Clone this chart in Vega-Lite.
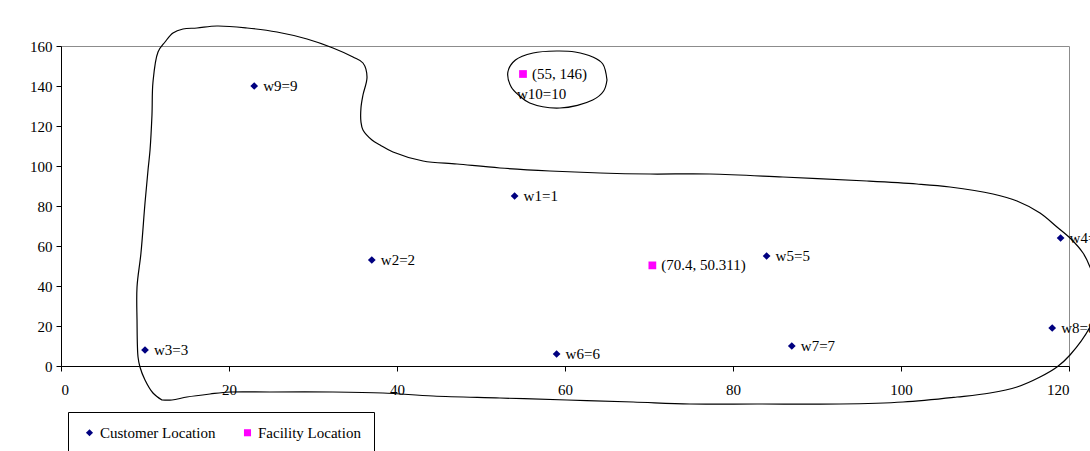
{
  "$schema": "https://vega.github.io/schema/vega-lite/v6.json",
  "width": 1008,
  "height": 320,
  "autosize": {"type": "none"},
  "padding": {"left": 61, "top": 46, "right": 21, "bottom": 85},
  "background": "white",
  "config": {
    "font": "Liberation Serif",
    "view": {"stroke": "#8c8c8c", "strokeWidth": 1},
    "axis": {
      "domainColor": "black",
      "domainWidth": 1,
      "tickColor": "black",
      "tickSize": 5,
      "labelColor": "black",
      "labelFont": "Liberation Serif",
      "labelFontSize": 15,
      "labelOverlap": false,
      "labelSeparation": 0,
      "grid": false,
      "title": null
    }
  },
  "datasets": {
    "sites": [
      {"x": 54, "y": 85, "kind": "Customer Location", "label": "w1=1"},
      {"x": 37, "y": 53, "kind": "Customer Location", "label": "w2=2"},
      {"x": 10, "y": 8, "kind": "Customer Location", "label": "w3=3"},
      {"x": 119, "y": 64, "kind": "Customer Location", "label": "w4=4"},
      {"x": 84, "y": 55, "kind": "Customer Location", "label": "w5=5"},
      {"x": 59, "y": 6, "kind": "Customer Location", "label": "w6=6"},
      {"x": 87, "y": 10, "kind": "Customer Location", "label": "w7=7"},
      {"x": 118, "y": 19, "kind": "Customer Location", "label": "w8=8"},
      {"x": 23, "y": 140, "kind": "Customer Location", "label": "w9=9"},
      {"x": 70.4, "y": 50.311, "kind": "Facility Location", "label": "(70.4, 50.311)"},
      {"x": 55, "y": 146, "kind": "Facility Location", "label": "(55, 146)", "note": "w10=10"}
    ],
    "outlines": [
      {"loop": "region", "i": 1, "x": 12.02, "y": -17},
      {"loop": "region", "i": 2, "x": 10.95, "y": -13.5},
      {"loop": "region", "i": 3, "x": 10.0, "y": -7},
      {"loop": "region", "i": 4, "x": 9.4, "y": -0.5},
      {"loop": "region", "i": 5, "x": 9.17, "y": 4.5},
      {"loop": "region", "i": 6, "x": 9.05, "y": 23},
      {"loop": "region", "i": 7, "x": 9.05, "y": 39.5},
      {"loop": "region", "i": 8, "x": 9.52, "y": 56.5},
      {"loop": "region", "i": 9, "x": 10.0, "y": 81.5},
      {"loop": "region", "i": 10, "x": 10.36, "y": 98},
      {"loop": "region", "i": 11, "x": 10.6, "y": 108},
      {"loop": "region", "i": 12, "x": 10.83, "y": 125.5},
      {"loop": "region", "i": 13, "x": 10.95, "y": 142},
      {"loop": "region", "i": 14, "x": 11.55, "y": 157},
      {"loop": "region", "i": 15, "x": 12.38, "y": 162},
      {"loop": "region", "i": 16, "x": 13.33, "y": 166.5},
      {"loop": "region", "i": 17, "x": 14.52, "y": 168.5},
      {"loop": "region", "i": 18, "x": 16.19, "y": 169},
      {"loop": "region", "i": 19, "x": 18.57, "y": 170},
      {"loop": "region", "i": 20, "x": 22.14, "y": 169},
      {"loop": "region", "i": 21, "x": 25.71, "y": 167},
      {"loop": "region", "i": 22, "x": 29.29, "y": 163.5},
      {"loop": "region", "i": 23, "x": 32.38, "y": 159},
      {"loop": "region", "i": 24, "x": 34.76, "y": 154.5},
      {"loop": "region", "i": 25, "x": 35.95, "y": 151.5},
      {"loop": "region", "i": 26, "x": 36.43, "y": 144.5},
      {"loop": "region", "i": 27, "x": 35.95, "y": 135.5},
      {"loop": "region", "i": 28, "x": 35.71, "y": 129},
      {"loop": "region", "i": 29, "x": 35.71, "y": 122},
      {"loop": "region", "i": 30, "x": 35.95, "y": 118},
      {"loop": "region", "i": 31, "x": 37.02, "y": 113},
      {"loop": "region", "i": 32, "x": 37.98, "y": 110.5},
      {"loop": "region", "i": 33, "x": 39.52, "y": 107},
      {"loop": "region", "i": 34, "x": 43.1, "y": 102.5},
      {"loop": "region", "i": 35, "x": 47.14, "y": 101},
      {"loop": "region", "i": 36, "x": 52.26, "y": 99},
      {"loop": "region", "i": 37, "x": 58.21, "y": 97.5},
      {"loop": "region", "i": 38, "x": 64.17, "y": 96.5},
      {"loop": "region", "i": 39, "x": 70.12, "y": 96},
      {"loop": "region", "i": 40, "x": 77.26, "y": 96},
      {"loop": "region", "i": 41, "x": 85.95, "y": 94.5},
      {"loop": "region", "i": 42, "x": 95.95, "y": 92.5},
      {"loop": "region", "i": 43, "x": 101.9, "y": 91},
      {"loop": "region", "i": 44, "x": 105.83, "y": 89.5},
      {"loop": "region", "i": 45, "x": 110.95, "y": 86},
      {"loop": "region", "i": 46, "x": 113.81, "y": 82.5},
      {"loop": "region", "i": 47, "x": 116.55, "y": 76.5},
      {"loop": "region", "i": 48, "x": 118.57, "y": 69.5},
      {"loop": "region", "i": 49, "x": 120.12, "y": 64},
      {"loop": "region", "i": 50, "x": 121.67, "y": 56.5},
      {"loop": "region", "i": 51, "x": 122.5, "y": 49.5},
      {"loop": "region", "i": 52, "x": 123.69, "y": 33},
      {"loop": "region", "i": 53, "x": 122.5, "y": 19.5},
      {"loop": "region", "i": 54, "x": 120.12, "y": 5.5},
      {"loop": "region", "i": 55, "x": 118.57, "y": -0.5},
      {"loop": "region", "i": 56, "x": 116.55, "y": -5.5},
      {"loop": "region", "i": 57, "x": 113.81, "y": -10.5},
      {"loop": "region", "i": 58, "x": 110.6, "y": -13.5},
      {"loop": "region", "i": 59, "x": 106.67, "y": -15.5},
      {"loop": "region", "i": 60, "x": 100.24, "y": -18},
      {"loop": "region", "i": 61, "x": 92.74, "y": -19},
      {"loop": "region", "i": 62, "x": 82.86, "y": -19},
      {"loop": "region", "i": 63, "x": 74.88, "y": -19},
      {"loop": "region", "i": 64, "x": 68.1, "y": -18},
      {"loop": "region", "i": 65, "x": 60.24, "y": -17},
      {"loop": "region", "i": 66, "x": 52.26, "y": -16},
      {"loop": "region", "i": 67, "x": 44.29, "y": -15},
      {"loop": "region", "i": 68, "x": 38.33, "y": -13.5},
      {"loop": "region", "i": 69, "x": 32.38, "y": -13},
      {"loop": "region", "i": 70, "x": 24.88, "y": -13},
      {"loop": "region", "i": 71, "x": 20.12, "y": -13},
      {"loop": "region", "i": 72, "x": 17.74, "y": -14},
      {"loop": "region", "i": 73, "x": 15.0, "y": -15.5},
      {"loop": "region", "i": 74, "x": 13.21, "y": -17},
      {"loop": "region", "i": 75, "x": 12.02, "y": -17},
      {"loop": "ring", "i": 1, "x": 65.0, "y": 143},
      {"loop": "ring", "i": 2, "x": 64.5, "y": 151},
      {"loop": "ring", "i": 3, "x": 63.3, "y": 154.5},
      {"loop": "ring", "i": 4, "x": 61.2, "y": 157},
      {"loop": "ring", "i": 5, "x": 59.0, "y": 157.5},
      {"loop": "ring", "i": 6, "x": 56.2, "y": 156.5},
      {"loop": "ring", "i": 7, "x": 54.1, "y": 153},
      {"loop": "ring", "i": 8, "x": 53.2, "y": 147},
      {"loop": "ring", "i": 9, "x": 53.6, "y": 139.5},
      {"loop": "ring", "i": 10, "x": 54.6, "y": 135},
      {"loop": "ring", "i": 11, "x": 55.8, "y": 131.5},
      {"loop": "ring", "i": 12, "x": 59.4, "y": 129},
      {"loop": "ring", "i": 13, "x": 63.3, "y": 133},
      {"loop": "ring", "i": 14, "x": 64.6, "y": 137.5},
      {"loop": "ring", "i": 15, "x": 65.0, "y": 143}
    ]
  },
  "encoding": {
    "x": {
      "field": "x", "type": "quantitative",
      "scale": {"domain": [0, 120], "nice": false},
      "axis": {"values": [0, 20, 40, 60, 80, 100, 120], "tickCount": 7, "labelPadding": 11, "labelOverlap": false}
    },
    "y": {
      "field": "y", "type": "quantitative",
      "scale": {"domain": [0, 160], "nice": false},
      "axis": {"values": [0, 20, 40, 60, 80, 100, 120, 140, 160], "tickCount": 9, "labelPadding": 4, "labelOverlap": false, "labelSeparation": 0}
    }
  },
  "layer": [
    {
      "data": {"name": "sites"},
      "mark": {"type": "point", "filled": true, "size": 60, "opacity": 1},
      "encoding": {
        "color": {
          "field": "kind", "type": "nominal",
          "scale": {"domain": ["Customer Location", "Facility Location"], "range": ["#000080", "#FF00FF"]},
          "legend": {
            "orient": "none", "legendX": 7, "legendY": 366, "direction": "horizontal",
            "title": null, "padding": 13, "strokeColor": "black", "fillColor": "white",
            "symbolSize": 50, "symbolOffset": 1, "labelOffset": 3, "columnPadding": 23,
            "labelFont": "Liberation Serif", "labelFontSize": 15, "labelColor": "black"
          }
        },
        "shape": {
          "field": "kind", "type": "nominal",
          "scale": {"domain": ["Customer Location", "Facility Location"], "range": ["diamond", "square"]},
          "legend": {
            "orient": "none", "legendX": 7, "legendY": 366, "direction": "horizontal",
            "title": null, "padding": 13, "strokeColor": "black", "fillColor": "white",
            "symbolSize": 50, "symbolOffset": 1, "labelOffset": 3, "columnPadding": 23,
            "labelFont": "Liberation Serif", "labelFontSize": 15, "labelColor": "black"
          }
        }
      }
    },
    {
      "data": {"name": "sites"},
      "mark": {"type": "text", "align": "left", "baseline": "middle", "dx": 9, "font": "Liberation Serif", "fontSize": 15, "color": "black"},
      "encoding": {
        "text": {"field": "label"}
      }
    },
    {
      "data": {"name": "sites"},
      "transform": [{"filter": "isValid(datum.note)"}],
      "mark": {"type": "text", "align": "left", "baseline": "middle", "dx": -6, "dy": 20, "font": "Liberation Serif", "fontSize": 15, "color": "black"},
      "encoding": {
        "text": {"field": "note"}
      }
    },
    {
      "data": {"name": "outlines"},
      "mark": {"type": "line", "color": "black", "strokeWidth": 1.2, "interpolate": "catmull-rom"},
      "encoding": {
        "detail": {"field": "loop"},
        "order": {"field": "i", "type": "quantitative"}
      }
    },
    {
      "data": {"values": [{}]},
      "mark": {"type": "rect", "filled": false, "stroke": "black", "strokeWidth": 1},
      "encoding": {
        "x": {"datum": -5.95, "type": "quantitative"},
        "x2": {"datum": 130},
        "y": {"datum": 176.75, "type": "quantitative"},
        "y2": {"datum": -60}
      }
    }
  ]
}
